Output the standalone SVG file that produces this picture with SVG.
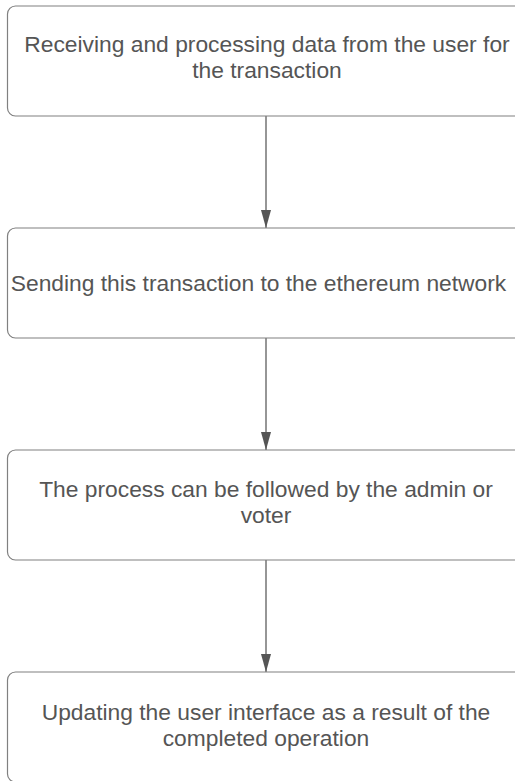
<svg xmlns="http://www.w3.org/2000/svg" width="515" height="781" viewBox="0 0 515 781">
<style>
.box{fill:#ffffff;stroke:#808080;stroke-width:1.2}
.t{font-family:"Liberation Sans",Arial,sans-serif;font-size:22.8px;fill:#555555;text-anchor:middle}
.c{stroke:#5e5e5e;stroke-width:1.3;fill:none}
</style>
<defs>
<marker id="ah" markerWidth="18" markerHeight="10" refX="18" refY="5" orient="auto" markerUnits="userSpaceOnUse" viewBox="0 0 18 10">
<path d="M0,0 L18,5 L0,10 Z" fill="#555555"/>
</marker>
</defs>
<rect width="515" height="781" fill="#ffffff"/>
<g id="connectors">
<line class="c" x1="266" y1="116" x2="266" y2="228" marker-end="url(#ah)"/>
<line class="c" x1="266" y1="338" x2="266" y2="450" marker-end="url(#ah)"/>
<line class="c" x1="266" y1="560" x2="266" y2="672" marker-end="url(#ah)"/>
</g>
<g id="node1">
<rect class="box" x="7.5" y="6" width="520" height="110" rx="8"/>
<text class="t" x="267" y="52">Receiving and processing data from the user for</text>
<text class="t" x="267" y="78">the transaction</text>
</g>
<g id="node2">
<rect class="box" x="7.5" y="228" width="520" height="110" rx="8"/>
<text class="t" x="258.5" y="291">Sending this transaction to the ethereum network</text>
</g>
<g id="node3">
<rect class="box" x="7.5" y="450" width="520" height="110" rx="8"/>
<text class="t" x="266" y="497">The process can be followed by the admin or</text>
<text class="t" x="266" y="523">voter</text>
</g>
<g id="node4">
<rect class="box" x="7.5" y="672" width="520" height="110" rx="8"/>
<text class="t" x="266" y="720">Updating the user interface as a result of the</text>
<text class="t" x="266" y="746">completed operation</text>
</g>
</svg>
